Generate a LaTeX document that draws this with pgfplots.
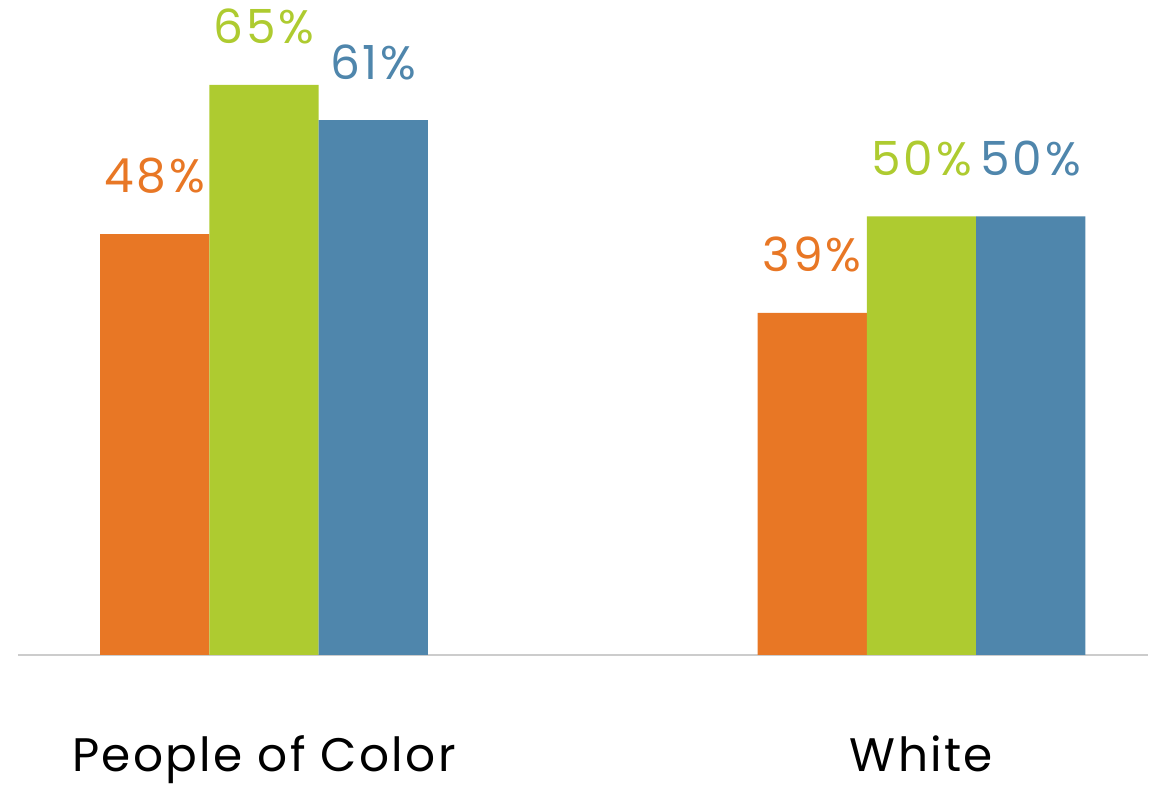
\documentclass[border=0pt]{standalone}
\usepackage{pgfplots}
\pgfplotsset{compat=1.18}
\usepackage{fontspec}
\setmainfont{Poppins}
\definecolor{cOrange}{HTML}{E87725}
\definecolor{cGreen}{HTML}{AECB30}
\definecolor{cBlue}{HTML}{4F86AC}
\definecolor{cAxis}{HTML}{CCCCCC}
\begin{document}
\begin{tikzpicture}[x=1pt,y=1pt]
\path[use as bounding box] (0,0) rectangle (575,392.5);
\begin{axis}[
  at={(9pt,65pt)}, anchor=south west,
  scale only axis, width=565pt, height=306.95pt,
  ymin=0, ymax=70,
  xmin=-0.3741, xmax=1.3445,
  ybar=0pt, bar width=54.65pt,
  clip=false,
  hide y axis,
  axis x line*=bottom,
  x axis line style={draw=cAxis, line width=1pt, -},
  xtick={0,1}, xticklabels={People of Color, White},
  major tick length=0pt,
  xticklabel style={anchor=base, yshift=-58.5pt, inner sep=0pt, font=\fontsize{23.5}{28}\selectfont\addfontfeatures{LetterSpace=5}, text=black},
  /pgf/number format/assume math mode=true,
  nodes near coords={\pgfmathprintnumber{\pgfplotspointmeta}\%},
  every node near coord/.append style={anchor=south, inner sep=0pt, yshift=20pt, font=\fontsize{23.5}{27}\selectfont\addfontfeatures{LetterSpace=6}},
  enlargelimits=false,
]
\addplot[fill=cOrange, draw=none, every node near coord/.append style={text=cOrange}] coordinates {(0,48) (1,39)};
\addplot[fill=cGreen, draw=none, every node near coord/.append style={text=cGreen}] coordinates {(0,65) (1,50)};
\addplot[fill=cBlue, draw=none, every node near coord/.append style={text=cBlue}] coordinates {(0,61) (1,50)};
\end{axis}
\end{tikzpicture}
\end{document}
